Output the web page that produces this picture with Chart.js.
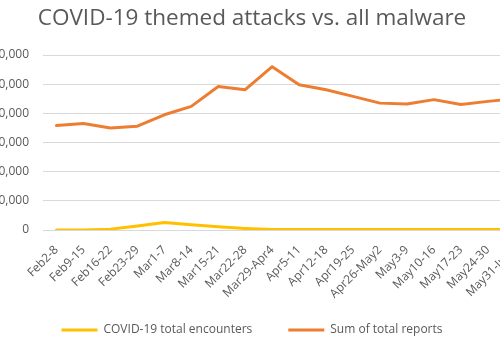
<!DOCTYPE html>
<html>
<head>
<meta charset="utf-8">
<script src="https://cdn.jsdelivr.net/npm/chart.js@4/dist/chart.umd.min.js"></script>
<style>
  html, body { margin: 0; padding: 0; background: #fff; overflow: hidden; }
  #wrap { position: relative; width: 500px; height: 350px; overflow: hidden; }
  #chart { position: absolute; left: -34px; top: 0; }
</style>
</head>
<body>
<div id="wrap">
  <canvas id="chart" width="572" height="350"></canvas>
</div>
<script>
const categories = [
  "Feb2-8", "Feb9-15", "Feb16-22", "Feb23-29", "Mar1-7", "Mar8-14",
  "Mar15-21", "Mar22-28", "Mar29-Apr4", "Apr5-11", "Apr12-18", "Apr19-25",
  "Apr26-May2", "May3-9", "May10-16", "May17-23", "May24-30", "May31-Jun6"
]
const covidEncounters = [0, 0, 300, 1400, 2600, 1800, 1100, 550, 200, 150, 150, 150, 150, 150, 150, 150, 150, 150]
const totalReports = [35800, 36500, 35000, 35600, 39500, 42400, 49200, 48100, 56000, 49800, 48100, 45800, 43500, 43200, 44700, 43000, 44100, 45000]
const yTicks = [0, 10000, 20000, 30000, 40000, 50000, 60000]

const textColor = "#595959"
const gridColor = "#d9d9d9"
const font = "'Open Sans', 'Noto Sans', sans-serif"

new Chart(document.getElementById("chart").getContext("2d"), {
  type: "line",
  data: {
    labels: categories,
    datasets: [
      {
        label: "COVID-19 total encounters",
        data: covidEncounters,
        borderColor: "#ffc000",
        backgroundColor: "#ffc000",
        borderWidth: 3,
        pointRadius: 0,
        tension: 0,
        borderJoinStyle: "round",
        borderCapStyle: "round"
      },
      {
        label: "Sum of total reports",
        data: totalReports,
        borderColor: "#ed7d31",
        backgroundColor: "#ed7d31",
        borderWidth: 3,
        pointRadius: 0,
        tension: 0,
        borderJoinStyle: "round",
        borderCapStyle: "round"
      }
    ]
  },
  options: {
    responsive: false,
    animation: false,
    devicePixelRatio: 1,
    layout: { padding: { bottom: 4 } },
    scales: {
      x: {
        offset: true,
        grid: { display: false, drawTicks: false },
        border: { display: false },
        ticks: {
          color: textColor,
          font: { family: font, size: 12 },
          minRotation: 45,
          maxRotation: 45,
          autoSkip: false,
          padding: 13
        },
        afterFit: s => {
          s.height = 58
          // let the slanted labels run past the axis box, as in the picture
          s._computeLabelArea = () => null
        }
      },
      y: {
        min: yTicks[0],
        max: yTicks[yTicks.length - 1],
        afterBuildTicks: s => { s.ticks = yTicks.map(v => ({ value: v })) },
        grid: { color: gridColor, lineWidth: 1, drawTicks: false },
        border: { display: false },
        ticks: {
          color: textColor,
          font: { family: font, size: 12 },
          padding: 14
        },
        afterFit: s => { s.width = 77 }
      }
    },
    plugins: {
      title: {
        display: true,
        text: "COVID-19 themed attacks vs. all malware",
        color: textColor,
        font: { family: font, size: 22.5, weight: "normal" },
        padding: { top: 5, bottom: 23 }
      },
      legend: {
        position: "bottom",
        labels: {
          color: textColor,
          font: { family: font, size: 12 },
          usePointStyle: true,
          pointStyle: "line",
          pointStyleWidth: 36,
          padding: 36
        }
      },
      tooltip: { enabled: false }
    }
  }
})
</script>
</body>
</html>
